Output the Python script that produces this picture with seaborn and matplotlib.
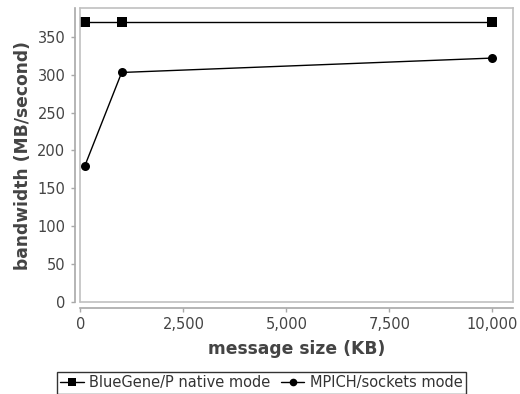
import matplotlib
matplotlib.use("Agg")
import matplotlib.pyplot as plt
import seaborn as sns
import pandas as pd
from matplotlib.lines import Line2D

msg_size = [100, 1000, 10000]
bluegene = [370, 370, 370]
mpich = [179, 303, 322]
series_names = ["BlueGene/P native mode", "MPICH/sockets mode"]

df = pd.DataFrame({
    "size": msg_size * 2,
    "bw": bluegene + mpich,
    "mode": [series_names[0]] * 3 + [series_names[1]] * 3,
})

sns.set_style("white")
plt.rcParams['font.family'] = ['DejaVu Sans']

fig = plt.figure(figsize=(5.2, 3.94), dpi=100)
ax = fig.add_axes([0.154, 0.2335, 0.8325, 0.746])

sns.lineplot(data=df, x="size", y="bw", hue="mode", style="mode",
             palette=["black", "black"], markers=["s", "o"], dashes=False,
             markersize=6.5, linewidth=1.0, markeredgewidth=0, ax=ax, legend=False)

ax.set_xlim(-10, 10500)
ax.set_ylim(0, 388)
ax.set_xticks([0, 2500, 5000, 7500, 10000])
ax.set_xticklabels(["0", "2,500", "5,000", "7,500", "10,000"])
ax.set_yticks(range(0, 351, 50))

for s in ["top", "right"]:
    ax.spines[s].set_color("#c0c0c0")
    ax.spines[s].set_linewidth(1.2)
for s in ["left", "bottom"]:
    ax.spines[s].set_color("#a8a8a8")
    ax.spines[s].set_linewidth(1.2)
    ax.spines[s].set_position(("outward", 4))

ax.axhline(0, color="#c0c0c0", lw=1.2, clip_on=False)
ax.axvline(-10, color="#c0c0c0", lw=1.2, clip_on=False)

ax.tick_params(axis="both", which="both", direction="out", length=3, width=1,
               color="#a8a8a8", labelsize=10.5, labelcolor="#444444", pad=3.5)
ax.tick_params(axis="both", bottom=True, left=True)

ax.set_xlabel("message size (KB)", fontsize=12.3, fontweight="bold", color="#444444", labelpad=6)
ax.set_ylabel("bandwidth (MB/second)", fontsize=12.3, fontweight="bold", color="#444444", labelpad=4)

handles = [Line2D([], [], color="black", marker="s", markersize=5.5, lw=1.0, markeredgewidth=0),
           Line2D([], [], color="black", marker="o", markersize=5.5, lw=1.0, markeredgewidth=0)]
leg = fig.legend(handles, series_names, loc="lower center", bbox_to_anchor=(0.503, 0.0),
                 ncol=2, frameon=True, fancybox=False, edgecolor="black", fontsize=10.5,
                 handlelength=1.6, handletextpad=0.4, columnspacing=0.7,
                 borderpad=0.25, borderaxespad=0)
leg.get_frame().set_linewidth(1.0)
for t in leg.get_texts():
    t.set_color("#333333")

fig.savefig("out.png", dpi=100)
